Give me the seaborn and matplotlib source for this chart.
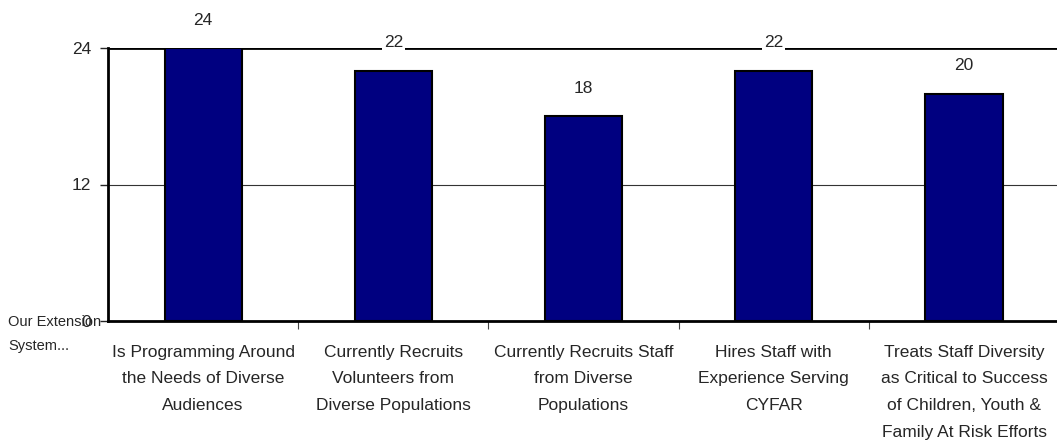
import matplotlib
matplotlib.use("Agg")
import matplotlib.pyplot as plt
import seaborn as sns
import pandas as pd

categories = [
    "Is Programming Around\nthe Needs of Diverse\nAudiences",
    "Currently Recruits\nVolunteers from\nDiverse Populations",
    "Currently Recruits Staff\nfrom Diverse\nPopulations",
    "Hires Staff with\nExperience Serving\nCYFAR",
    "Treats Staff Diversity\nas Critical to Success\nof Children, Youth &\nFamily At Risk Efforts",
]
counts = [24, 22, 18, 22, 20]
y_ticks = [0, 12, 24]

sns.set_theme(style="white")
plt.rcParams["font.family"] = ["Liberation Sans", "DejaVu Sans"]

df = pd.DataFrame({"category": categories, "count": counts})

fig = plt.figure(figsize=(10.57, 4.46), dpi=100)
ax = fig.add_axes([108 / 1057, 1 - 321 / 446, 1 - 108 / 1057 + 0.002, (321 - 48) / 446])

sns.barplot(data=df, x="category", y="count", color="#000080", width=0.405,
            edgecolor="black", linewidth=1.5, saturation=1, ax=ax, zorder=3)

ax.set_ylim(0, 24)
ax.set_xlim(-0.5, len(categories) - 0.5)
ax.set_yticks(y_ticks)
ax.set_yticklabels([str(t) for t in y_ticks], fontsize=12.5)
ax.tick_params(axis="y", length=6, width=1, direction="out", left=True, pad=6)

# category boundaries carry the x tick marks
ax.set_xticks([i + 0.5 for i in range(len(categories) - 1)], minor=True)
ax.set_xticks(range(len(categories)))
ax.set_xticklabels(categories, fontsize=12.5, linespacing=1.98)
ax.tick_params(axis="x", which="major", length=0, pad=17)
ax.tick_params(axis="x", which="minor", length=6, width=0.8, color="#444444", bottom=True)

# horizontal reference lines
ax.axhline(12, color="#333333", linewidth=0.8, zorder=1)
ax.axhline(24, color="black", linewidth=2, zorder=1)

for side in ["top", "right"]:
    ax.spines[side].set_visible(False)
for side in ["left", "bottom"]:
    ax.spines[side].set_color("black")
    ax.spines[side].set_linewidth(2)
    ax.spines[side].set_zorder(4)

for i, v in enumerate(counts):
    ax.annotate(str(v), (i, v), xytext=(0, 20), textcoords="offset points",
                ha="center", va="center", fontsize=12.5,
                bbox=dict(boxstyle="square,pad=0.1", facecolor="white", edgecolor="none"),
                zorder=5, annotation_clip=False)

fig.text(8 / 1057, 1 - 334 / 446, "Our Extension\nSystem...", fontsize=10.5,
         ha="left", va="center", linespacing=1.95)

ax.set_xlabel("")
ax.set_ylabel("")
fig.savefig("out.png", dpi=100)
